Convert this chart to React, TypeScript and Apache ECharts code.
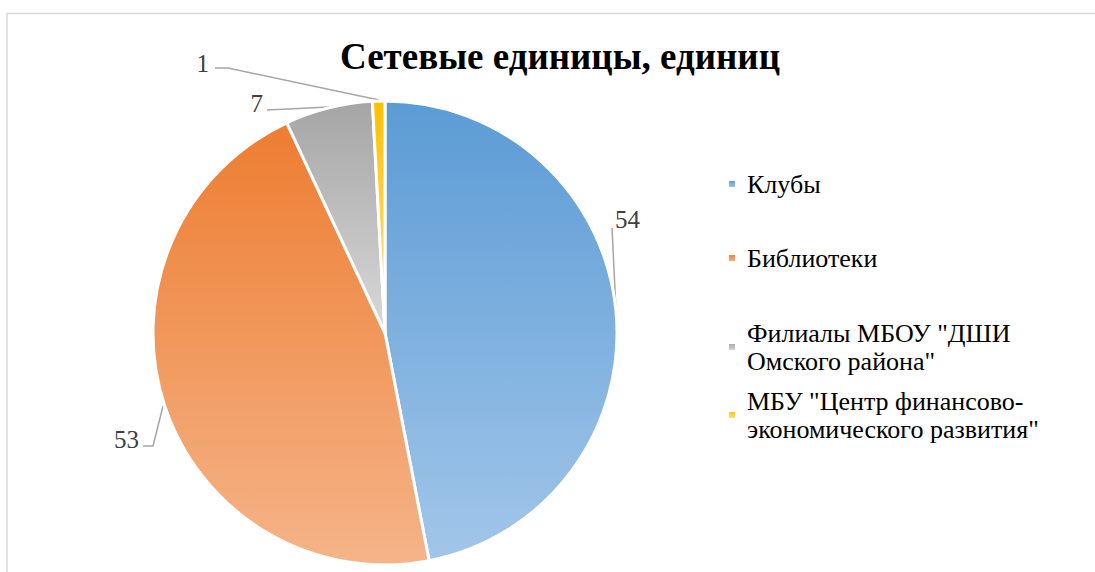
import React, { useEffect, useRef } from "react";
import * as echarts from "echarts";

const TITLE = "Сетевые единицы, единиц";
const CATEGORIES = [
  "Клубы",
  "Библиотеки",
  'Филиалы МБОУ "ДШИ Омского района"',
  'МБУ "Центр финансово-экономического развития"',
];
const LEGEND_LINES = [
  ["Клубы"],
  ["Библиотеки"],
  ['Филиалы МБОУ "ДШИ', 'Омского района"'],
  ['МБУ "Центр финансово-', 'экономического развития"'],
];
const VALUES = [54, 53, 7, 1];
const COLORS_TOP = ["#5B9BD5", "#ED7D31", "#A5A5A5", "#FFC000"];
const COLORS_BOTTOM = ["#A2C6E9", "#F5B489", "#D9D9D9", "#FFE38F"];

// label layout (positions only)
const LABEL_POS = [
  { x: 615, y: 219, align: "left", line: [[616, 311], [612, 228], [612, 228]] },
  { x: 139, y: 439, align: "right", line: [[163, 406], [153, 446], [143, 446]] },
  { x: 263, y: 103, align: "right", line: [[329, 107], [267, 110], [267, 110]] },
  { x: 209, y: 63, align: "right", line: [[379, 100], [228, 68], [215, 68]] },
];
const LEGEND_TOPS = [170, 244, 291, 359];

const grad = (i: number) =>
  new echarts.graphic.LinearGradient(0, 0, 0, 1, [
    { offset: 0, color: COLORS_TOP[i] },
    { offset: 1, color: COLORS_BOTTOM[i] },
  ]);

export default function App() {
  const ref = useRef<HTMLDivElement>(null);
  useEffect(() => {
    document.body.style.margin = "0";
    const chart = echarts.init(ref.current!, null, { renderer: "svg" });
    const font = "Times New Roman, Liberation Serif, DejaVu Serif, serif";
    chart.setOption({
      animation: false,
      backgroundColor: "#ffffff",
      textStyle: { fontFamily: font },
      title: {
        text: TITLE,
        left: 555,
        textAlign: "center",
        top: 33,
        textStyle: { fontFamily: font, fontSize: 37, fontWeight: "bold", color: "#000000" },
      },
      graphic: [
        {
          type: "polyline",
          shape: { points: [[7, 572], [7, 13.5], [1095, 13.5]] },
          style: { stroke: "#D9D9D9", lineWidth: 1.5, fill: "none" },
          silent: true,
        },
      ],
      legend: CATEGORIES.map((name, i) => ({
        data: [{ name, itemStyle: { color: grad(i) } }],
        orient: "vertical",
        left: 727,
        top: LEGEND_TOPS[i],
        padding: 0,
        icon: "rect",
        itemWidth: 8,
        itemHeight: 8,
        // a leading empty line keeps the icon level with the first text line
        formatter: () =>
          LEGEND_LINES[i].length > 1 ? "\n" + LEGEND_LINES[i].join("\n") + "\n" : LEGEND_LINES[i][0],
        textStyle: {
          fontFamily: font,
          fontSize: 26,
          lineHeight: 28,
          color: "#000000",
          padding: [0, 0, 0, 6],
        },
        selectedMode: false,
      })),
      series: [
        {
          type: "pie",
          center: [385, 333],
          radius: 232,
          startAngle: 90,
          clockwise: true,
          avoidLabelOverlap: false,
          itemStyle: { borderColor: "#ffffff", borderWidth: 3 },
          label: {
            show: true,
            position: "outside",
            formatter: "{c}",
            fontFamily: font,
            fontSize: 25,
            color: "#404040",
          },
          labelLine: { show: true, lineStyle: { color: "#A6A6A6", width: 1.5 } },
          labelLayout: (params: any) => {
            const p = LABEL_POS[params.dataIndex];
            return {
              x: p.x,
              y: p.y,
              align: p.align,
              verticalAlign: "middle",
              labelLinePoints: p.line,
            };
          },
          emphasis: { disabled: true },
          data: CATEGORIES.map((name, i) => ({
            name,
            value: VALUES[i],
            itemStyle: { color: grad(i) },
          })),
        },
      ],
    });
    return () => chart.dispose();
  }, []);
  return <div ref={ref} style={{ width: 1095, height: 572 }} />;
}
